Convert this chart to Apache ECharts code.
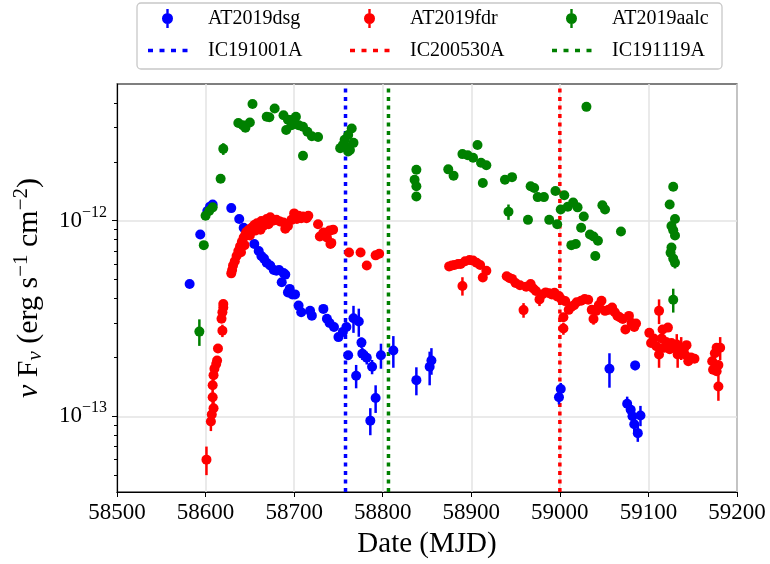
<!DOCTYPE html>
<html>
<head>
<meta charset="utf-8">
<script src="https://cdn.jsdelivr.net/npm/echarts@6/dist/echarts.min.js"></script>
<style>
  html, body { margin: 0; padding: 0; background: #fff; }
  #main { width: 770px; height: 564px; }
</style>
</head>
<body>
<div id="main"></div>
<script>
// flux values in units of 1e-13 erg s^-1 cm^-2 : [MJD, flux, error]
var dsgPoints = [
    [58582, 4.75, 0], [58594, 8.5, 0], [58602, 11.2, 0], [58605, 11.8, 0], [58608, 12.1, 0],
    [58629, 11.6, 0], [58638, 10.2, 0], [58643, 9.2, 0], [58648, 8.6, 0], [58655, 7.6, 0],
    [58660, 7.0, 0], [58663, 6.6, 0], [58666, 6.4, 0], [58669, 6.1, 0], [58673, 5.9, 0],
    [58677, 5.6, 0], [58680, 5.55, 0], [58683, 5.6, 0], [58686, 4.84, 0], [58688, 5.4, 0],
    [58690, 5.3, 0], [58693, 4.3, 0], [58695, 4.48, 0], [58698, 4.2, 0], [58701, 4.2, 0],
    [58705, 3.68, 0], [58708, 3.4, 0], [58718, 3.46, 0], [58720, 3.27, 0], [58733, 3.54, 0],
    [58737, 3.15, 0], [58740, 3.0, 0], [58745, 2.86, 0], [58750, 2.54, 0], [58755, 2.7, 0],
    [58759, 2.86, 0], [58761, 2.05, 0.1], [58767, 3.17, 0.5], [58770, 1.61, 0.22], [58773, 3.05, 0.5],
    [58776, 2.38, 0.15], [58777, 2.09, 0.15], [58782, 1.99, 0.15], [58786, 0.95, 0.15], [58788, 1.79, 0.15],
    [58792, 1.24, 0.2], [58798, 2.05, 0.3], [58812, 2.17, 0.4], [58838, 1.53, 0.25], [58853, 1.79, 0.35],
    [58855, 1.93, 0.3], [58999, 1.25, 0.1], [59001, 1.38, 0.1], [59056, 1.75, 0.35], [59076, 1.16, 0.1],
    [59080, 1.08, 0.1], [59082, 1.0, 0.12], [59084, 0.91, 0.1], [59085, 1.82, 0.1], [59088, 0.82, 0.08],
    [59091, 1.01, 0.12]
];

var fdrPoints = [
    [58601, 0.60, 0.1], [58606, 0.94, 0.1], [58607, 1.02, 0.08], [58609, 1.1, 0.1], [58608, 1.25, 0.1],
    [58608, 1.44, 0.1], [58609, 1.62, 0.1], [58610, 1.75, 0], [58612, 1.85, 0], [58613, 1.93, 0],
    [58614, 2.22, 0], [58619, 2.74, 0.2], [58618, 3.15, 0], [58619, 3.4, 0], [58620, 3.6, 0],
    [58620, 3.75, 0], [58629, 5.38, 0], [58630, 5.6, 0], [58631, 5.9, 0], [58633, 6.2, 0],
    [58635, 6.6, 0], [58637, 7.0, 0], [58639, 7.4, 0], [58640, 6.9, 0], [58641, 7.8, 0],
    [58643, 8.2, 0], [58644, 7.5, 0], [58645, 8.5, 0], [58646, 8.76, 0], [58649, 9.0, 0],
    [58650, 8.4, 0], [58652, 9.2, 0], [58655, 9.5, 0], [58656, 8.9, 0], [58658, 9.7, 0],
    [58660, 9.2, 0], [58662, 9.0, 0], [58663, 9.95, 0], [58665, 9.4, 0], [58669, 10.2, 0],
    [58671, 9.6, 0], [58673, 10.4, 0], [58676, 10.0, 0], [58680, 10.1, 0], [58684, 9.9, 0],
    [58688, 9.8, 0], [58690, 9.1, 0], [58693, 9.4, 0], [58697, 10.1, 0], [58700, 10.9, 0],
    [58703, 10.2, 0], [58705, 10.6, 0], [58708, 10.3, 0], [58710, 10.5, 0], [58714, 10.3, 0],
    [58716, 10.6, 0], [58727, 9.6, 0], [58729, 8.3, 0], [58733, 8.7, 0], [58737, 8.2, 0],
    [58740, 8.9, 0], [58741, 7.6, 0], [58742, 7.7, 0], [58744, 9.0, 0], [58762, 6.87, 0],
    [58775, 6.87, 0], [58782, 5.9, 0], [58792, 6.65, 0], [58796, 6.77, 0],
    [58875, 5.84, 0], [58878, 5.9, 0], [58881, 5.93, 0], [58885, 6.0, 0], [58888, 6.0, 0],
    [58890, 4.64, 0.5], [58893, 6.2, 0], [58898, 6.3, 0], [58902, 6.25, 0], [58906, 6.1, 0],
    [58910, 5.93, 0], [58913, 5.12, 0], [58917, 5.55, 0], [58940, 5.2, 0], [58943, 5.1, 0],
    [58946, 5.04, 0], [58950, 4.8, 0], [58955, 4.68, 0], [58959, 3.49, 0.3], [58962, 4.6, 0],
    [58967, 4.74, 0], [58970, 4.5, 0], [58973, 4.37, 0], [58977, 3.96, 0.3], [58980, 4.2, 0],
    [58984, 4.3, 0], [58988, 4.26, 0], [58991, 4.2, 0], [58994, 4.28, 0], [58997, 4.1, 0],
    [58999, 4.12, 0], [59002, 3.95, 0], [59004, 3.21, 0], [59004, 2.81, 0.2], [59006, 3.88, 0],
    [59010, 3.5, 0], [59013, 3.63, 0], [59016, 3.7, 0], [59019, 3.83, 0], [59024, 3.9, 0],
    [59028, 3.98, 0], [59032, 3.94, 0], [59036, 3.5, 0], [59038, 3.14, 0.2], [59041, 3.46, 0],
    [59044, 3.7, 0], [59047, 3.9, 0], [59051, 3.46, 0], [59055, 3.5, 0], [59059, 3.6, 0],
    [59062, 3.4, 0], [59065, 3.26, 0], [59068, 3.2, 0], [59071, 3.14, 0], [59074, 2.78, 0],
    [59078, 3.26, 0], [59081, 3.0, 0], [59084, 2.86, 0], [59086, 2.98, 0], [59101, 2.67, 0],
    [59103, 2.37, 0], [59106, 2.5, 0], [59109, 2.28, 0], [59112, 3.46, 0.5], [59112, 2.07, 0.3],
    [59115, 2.5, 0], [59116, 2.78, 0], [59118, 2.24, 0], [59120, 2.4, 0], [59122, 2.84, 0],
    [59124, 2.2, 0], [59126, 2.37, 0], [59129, 2.25, 0], [59132, 2.33, 0.3], [59133, 2.07, 0.3],
    [59137, 2.24, 0.3], [59140, 2.2, 0], [59141, 2.07, 0], [59143, 2.31, 0], [59145, 1.91, 0],
    [59148, 2.0, 0], [59152, 1.97, 0], [59172, 1.91, 0], [59173, 1.73, 0], [59175, 2.1, 0],
    [59177, 2.24, 0], [59177, 1.7, 0], [59179, 1.83, 0], [59179, 1.42, 0.22], [59181, 2.24, 0.3]
];

var aalcPoints = [
    [58593, 2.71, 0.42], [58598, 7.5, 0], [58600, 10.6, 0], [58604, 11.2, 0], [58608, 11.7, 0],
    [58617, 16.4, 0], [58620, 23.3, 1.6], [58637, 31.6, 0], [58642, 30.8, 0], [58645, 29.9, 0],
    [58650, 31.8, 0], [58653, 39.5, 0], [58669, 34.0, 0], [58672, 33.8, 0], [58678, 37.5, 0],
    [58688, 34.6, 0], [58691, 29.1, 0], [58693, 32.8, 0], [58697, 30.8, 0], [58698, 32.8, 0],
    [58702, 34.0, 0], [58705, 30.8, 0], [58710, 30.2, 0], [58710, 21.5, 0], [58715, 28.5, 0],
    [58720, 27.0, 0], [58727, 26.8, 0], [58752, 23.5, 0], [58755, 24.4, 0], [58757, 25.9, 0],
    [58759, 23.9, 0], [58761, 27.4, 0], [58761, 22.6, 0], [58763, 23.0, 0], [58765, 29.6, 0],
    [58767, 25.0, 0], [58836, 16.2, 0], [58838, 18.2, 0], [58838, 15.0, 0], [58838, 13.3, 0],
    [58874, 18.3, 0], [58880, 17.0, 0], [58890, 21.9, 0], [58896, 21.6, 0], [58902, 21.0, 0],
    [58907, 24.4, 0], [58911, 19.8, 0], [58913, 15.6, 0], [58917, 19.2, 0], [58938, 16.2, 0],
    [58942, 11.1, 1.0], [58946, 16.7, 0], [58964, 10.1, 0], [58967, 15.0, 0], [58971, 14.7, 0],
    [58975, 13.2, 0], [58982, 13.2, 0], [58988, 10.1, 0], [58995, 14.2, 0], [58997, 9.6, 0],
    [59001, 11.4, 0], [59005, 13.5, 0], [59009, 11.8, 0], [59013, 7.5, 0], [59015, 12.4, 0],
    [59018, 7.6, 0], [59020, 11.7, 0], [59024, 9.2, 0], [59027, 10.5, 0], [59030, 38.2, 0],
    [59034, 8.5, 0], [59038, 8.3, 0], [59040, 6.6, 0], [59043, 7.9, 0], [59048, 12.0, 0],
    [59051, 11.4, 0], [59069, 8.8, 0], [59124, 12.1, 0], [59125, 6.85, 0], [59126, 9.4, 0],
    [59126, 7.3, 0], [59128, 14.9, 0], [59128, 8.93, 0], [59128, 6.4, 0], [59128, 3.94, 0.55],
    [59130, 10.2, 0], [59130, 8.4, 0], [59130, 6.1, 0.4]
];

// neutrino arrival dates (MJD)
var neutrinoNames = ['IC191001A', 'IC200530A', 'IC191119A'];
var neutrinoDates = [58758, 59000, 58806.5];
var neutrinoColors = ['#0000ff', '#ff0000', '#008000'];

var xTicks = [58500, 58600, 58700, 58800, 58900, 59000, 59100, 59200];
var yMajorTicks = [1, 10];
var yMinorTicks = [0.5, 0.6, 0.7, 0.8, 0.9, 2, 3, 4, 5, 6, 7, 8, 9, 20, 30, 40];
var yMin = 0.41, yMax = 50;

var FONT = "'Liberation Serif', 'DejaVu Serif', serif";
var ERR_ICON = 'path://M0 0h0.01v0.01h-0.01z M41 20h-0.01v-0.01h0.01z M19.3 0.5h2.4v19h-2.4z M20.5 4.5a5.5 5.5 0 1 1 -0.001 0z';
var DOT_ICON = 'path://M0 0h0.01v0.01h-0.01z M41 20h-0.01v-0.01h0.01z M1 8.2h5v3.6h-5z M12.5 8.2h5v3.6h-5z M24 8.2h5v3.6h-5z M35.5 8.2h5v3.6h-5z';

var myChart = echarts.init(document.getElementById('main'));

function errRender(color) {
    return function (params, api) {
        var x = api.value(0), y = api.value(1), e = api.value(2);
        var c = api.coord([x, y]);
        var children = [];
        if (e > 0) {
            var lo = api.coord([x, Math.max(y - e, 0.05)]);
            var hi = api.coord([x, y + e]);
            children.push({
                type: 'line',
                shape: { x1: c[0], y1: lo[1], x2: c[0], y2: hi[1] },
                style: { stroke: color, lineWidth: 2.5 }
            });
        }
        children.push({
            type: 'circle',
            shape: { cx: c[0], cy: c[1], r: 5 },
            style: { fill: color }
        });
        return { type: 'group', children: children };
    };
}

function pointSeries(name, points, color) {
    return {
        name: name,
        type: 'custom',
        z: 3,
        itemStyle: { color: color },
        encode: { x: 0, y: 1 },
        renderItem: errRender(color),
        data: points
    };
}

var series = [];
neutrinoNames.forEach(function (n, i) {
    series.push({
        name: n,
        type: 'line',
        z: 1,
        symbol: 'none',
        color: neutrinoColors[i],
        itemStyle: { color: neutrinoColors[i] },
        lineStyle: { color: neutrinoColors[i], width: 3.5, type: [4, 4.5], cap: 'butt' },
        data: [[neutrinoDates[i], yMin], [neutrinoDates[i], yMax]]
    });
});
series.push(pointSeries('AT2019dsg', dsgPoints, '#0000ff'));
series.push(pointSeries('AT2019fdr', fdrPoints, '#ff0000'));
series.push(pointSeries('AT2019aalc', aalcPoints, '#008000'));

var option = {
    animation: false,
    textStyle: { fontFamily: FONT },
    grid: {
        left: 117, right: 33, top: 84, bottom: 70,
        show: true, borderColor: '#000', borderWidth: 1.2
    },
    legend: {
        left: 137, top: 3, width: 570,
        orient: 'horizontal',
        selectedMode: false,
        itemWidth: 41, itemHeight: 20, itemGap: 11,
        padding: [5, 8, 8, 10],
        borderColor: '#c8c8c8', borderWidth: 1.3, borderRadius: 4,
        textStyle: {
            fontFamily: FONT, fontSize: 20, color: '#000',
            width: 130, lineHeight: 21, padding: [0, 0, 0, 15]
        },
        data: [
            { name: 'AT2019dsg', icon: ERR_ICON },
            { name: 'AT2019fdr', icon: ERR_ICON },
            { name: 'AT2019aalc', icon: ERR_ICON, textStyle: { width: 102 } },
            { name: 'IC191001A', icon: DOT_ICON },
            { name: 'IC200530A', icon: DOT_ICON },
            { name: 'IC191119A', icon: DOT_ICON, textStyle: { width: 102 } }
        ]
    },
    xAxis: {
        type: 'value',
        min: xTicks[0], max: xTicks[xTicks.length - 1], interval: 100,
        name: 'Date (MJD)',
        nameLocation: 'middle', nameGap: 38,
        nameTextStyle: { fontFamily: FONT, fontSize: 29, color: '#000' },
        axisLine: { lineStyle: { color: '#000', width: 1.2 } },
        axisTick: { show: true, length: 5, inside: false, lineStyle: { color: '#000', width: 1 } },
        axisLabel: {
            fontFamily: FONT, fontSize: 23, color: '#000', margin: 9,
            formatter: function (v) { return String(v); }
        },
        splitLine: { show: true, lineStyle: { color: '#e3e3e3', width: 1.5 } }
    },
    yAxis: [{
        type: 'log', logBase: 10,
        min: yMin, max: yMax,
        position: 'left',
        name: '{i|ν} F{s|ν} (erg s{p|−1} cm{p|−2})',
        nameLocation: 'middle', nameGap: 70, nameRotate: 90,
        nameTextStyle: {
            fontFamily: FONT, fontSize: 30, color: '#000',
            rich: {
                i: { fontFamily: FONT, fontSize: 30, fontStyle: 'italic', color: '#000' },
                s: { fontFamily: FONT, fontSize: 21, fontStyle: 'italic', color: '#000', padding: [12, 0, 0, 0] },
                p: { fontFamily: FONT, fontSize: 21, color: '#000', padding: [0, 0, 15, 0] }
            }
        },
        axisLine: { show: true, lineStyle: { color: '#000', width: 1.2 } },
        axisTick: { show: true, length: 5, customValues: yMajorTicks, lineStyle: { color: '#000', width: 1 } },
        axisLabel: {
            customValues: yMajorTicks,
            margin: 10,
            formatter: function (v) {
                var e = Math.round(Math.log10(v));
                if (Math.abs(Math.log10(v) - e) > 1e-6) return '';
                return '{b|10}{s|−' + (13 - e) + '}';
            },
            rich: {
                b: { fontFamily: FONT, fontSize: 23, color: '#000' },
                s: { fontFamily: FONT, fontSize: 16, color: '#000', padding: [0, 0, 16, 0] }
            }
        },
        splitLine: { show: true, lineStyle: { color: '#e3e3e3', width: 1.5 } }
    }, {
        // minor ticks: placed on the right slot and shifted onto the left spine
        type: 'log', logBase: 10,
        min: yMin, max: yMax,
        position: 'right',
        offset: -620,
        axisLine: { show: false },
        axisLabel: { show: false },
        splitLine: { show: false },
        axisTick: { show: true, inside: true, length: 3, customValues: yMinorTicks, lineStyle: { color: '#000', width: 1 } }
    }],
    series: series
};

myChart.setOption(option);
</script>
</body>
</html>
